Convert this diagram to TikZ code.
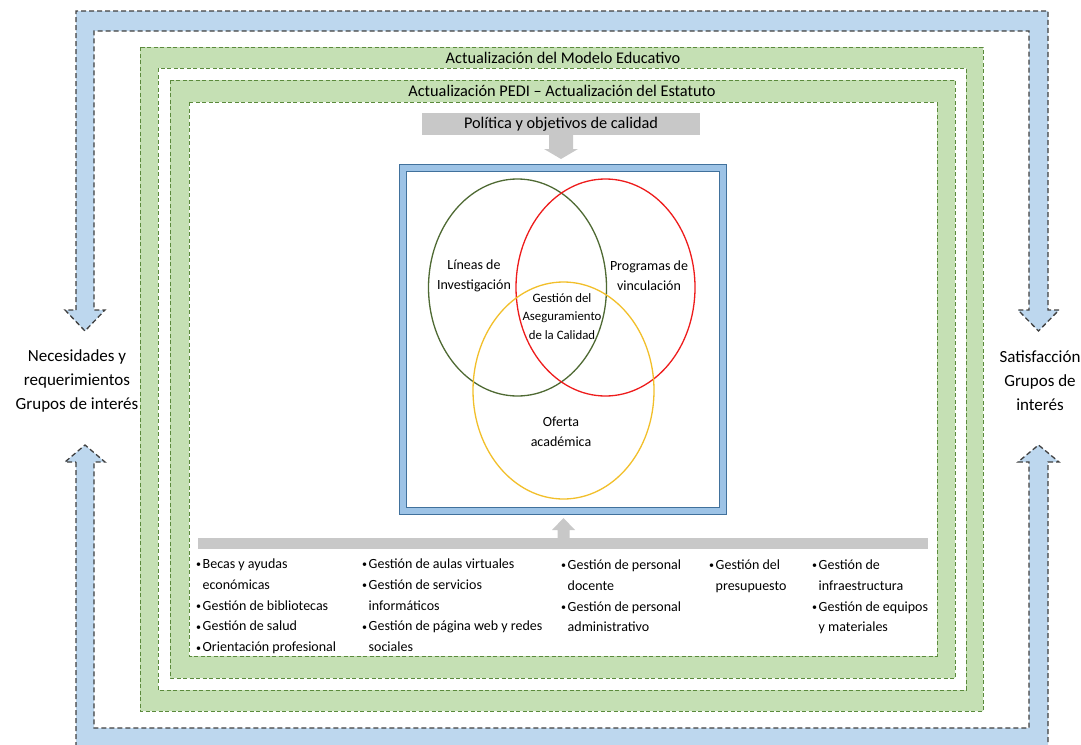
\documentclass[tikz,border=0pt]{standalone}
\usepackage{fontspec}
\setmainfont{Carlito}
\definecolor{frameblue}{HTML}{BDD7EE}
\definecolor{dashgray}{HTML}{404040}
\definecolor{framegreen}{HTML}{C5E0B4}
\definecolor{dashgreen}{HTML}{5B8A3C}
\definecolor{bandblue}{HTML}{9DC3E6}
\definecolor{edgeblue}{HTML}{41719C}
\definecolor{softgray}{HTML}{C8C8C8}
\definecolor{venngreen}{HTML}{4F6A33}
\definecolor{vennred}{HTML}{EE1C1C}
\definecolor{vennyellow}{HTML}{F2BF2A}
\newcommand{\bitem}{\makebox[6.5pt][l]{\raisebox{0.5pt}{\fontsize{10}{10}\selectfont •}}}
\newcommand{\bcont}{\hspace*{6.5pt}}
\tikzset{
  bluearrow/.style={fill=frameblue, draw=dashgray, line width=1.3pt, dash pattern=on 5pt off 3pt, line join=miter},
  greenband/.style={fill=framegreen, even odd rule},
  greenedge/.style={draw=dashgreen, line width=1pt, dash pattern=on 4pt off 2.5pt},
  titletext/.style={inner sep=0pt, font=\fontsize{16.3}{18}\selectfont},
  sidetext/.style={inner sep=0pt, align=center, font=\fontsize{17}{24}\selectfont},
  venntext/.style={inner sep=0pt, align=center, font=\fontsize{14}{20}\selectfont},
  coretext/.style={inner sep=0pt, align=center, font=\fontsize{12.8}{18.5}\selectfont},
  listcol/.style={inner sep=0pt, align=left, anchor=north west, font=\fontsize{14}{20.8}\selectfont},
  ring/.style={line width=1.3pt},
}
\begin{document}
\begin{tikzpicture}[x=1pt,y=-1pt]
\useasboundingbox (0,0) rectangle (1081,744);

% outer loop: two blue frame arrows meeting at the side labels
\path[bluearrow] (76,310) -- (76,11) -- (1048,11) -- (1048,310) -- (1059,310)
  -- (1038.5,331) -- (1018,310) -- (1029,310) -- (1029,31) -- (94,31) -- (94,310)
  -- (105,310) -- (85,331) -- (65,310) -- cycle;
\path[bluearrow] (76,462) -- (76,752) -- (1048,752) -- (1048,462) -- (1059,462)
  -- (1038.5,445) -- (1018,462) -- (1029,462) -- (1029,728) -- (94,728) -- (94,462)
  -- (105,462) -- (85,445) -- (65,462) -- cycle;

% green frames
\path[greenband] (140,47) rectangle (983,711) (158,68) rectangle (966,690);
\draw[greenedge] (140,47) rectangle (983,711);
\draw[greenedge] (158,68) rectangle (966,690);
\path[greenband] (170,80) rectangle (955,678) (189,102) rectangle (937,656);
\draw[greenedge] (170,80) rectangle (955,678);
\draw[greenedge] (189,102) rectangle (937,656);

\node[titletext] (modelo) at (563,58) {Actualización del Modelo Educativo};
\node[titletext] (pedi) at (562,91) {Actualización PEDI – Actualización del Estatuto};

% side labels
\node[sidetext] (needs) at (77,381) {Necesidades y\\requerimientos\\Grupos de interés};
\node[sidetext] (satis) at (1040,381) {Satisfacción\\Grupos de\\interés};

% quality policy box and its arrow
\node[fill=softgray, inner sep=0pt, minimum width=278, minimum height=22,
      font=\fontsize{16.3}{18}\selectfont] (policy) at (561,124) {Política y objetivos de calidad};
\fill[softgray] (549,135) -- (573,135) -- (573,149) -- (578,149) -- (561,159)
  -- (544,149) -- (549,149) -- cycle;

% central box with the Venn diagram
\node[draw=edgeblue, fill=bandblue, line width=1pt, minimum width=327, minimum height=350,
      inner sep=0pt] (qbox) at (562.5,339) {};
\node[draw=edgeblue, fill=white, line width=1pt, minimum width=313, minimum height=336,
      inner sep=0pt] (qinner) at (qbox.center) {};

\draw[ring, venngreen] (517.5,287.5) ellipse [x radius=89, y radius=108.5];
\draw[ring, vennred] (605.5,287.5) ellipse [x radius=89.5, y radius=108.5];
\draw[ring, vennyellow] (563.5,390.5) ellipse [x radius=90.5, y radius=108.5];

\node[venntext] (lineas) at (474,276) {Líneas de\\Investigación};
\node[venntext] (programas) at (649,276) {Programas de\\vinculación};
\node[coretext] (core) at (562,316.5) {Gestión del\\Aseguramiento\\de la Calidad};
\node[venntext] (oferta) at (561,432) {Oferta\\académica};

% support processes bar and its arrow
\fill[softgray] (198,538) rectangle (928,549);
\fill[softgray] (557.5,538) -- (569.5,538) -- (569.5,530) -- (575,530) -- (563.5,518)
  -- (552,530) -- (557.5,530) -- cycle;

\node[listcol] (colA) at (196,558.5) {\bitem Becas y ayudas\\\bcont económicas\\\bitem Gestión de bibliotecas\\\bitem Gestión de salud\\\bitem Orientación profesional};
\node[listcol] (colB) at (362,558.5) {\bitem Gestión de aulas virtuales\\\bitem Gestión de servicios\\\bcont informáticos\\\bitem Gestión de página web y redes\\\bcont sociales};
\node[listcol] (colC) at (561,559.5) {\bitem Gestión de personal\\\bcont docente\\\bitem Gestión de personal\\\bcont administrativo};
\node[listcol] (colD) at (709,559.5) {\bitem Gestión del\\\bcont presupuesto};
\node[listcol] (colE) at (812,559.5) {\bitem Gestión de\\\bcont infraestructura\\\bitem Gestión de equipos\\\bcont y materiales};
\end{tikzpicture}
\end{document}
